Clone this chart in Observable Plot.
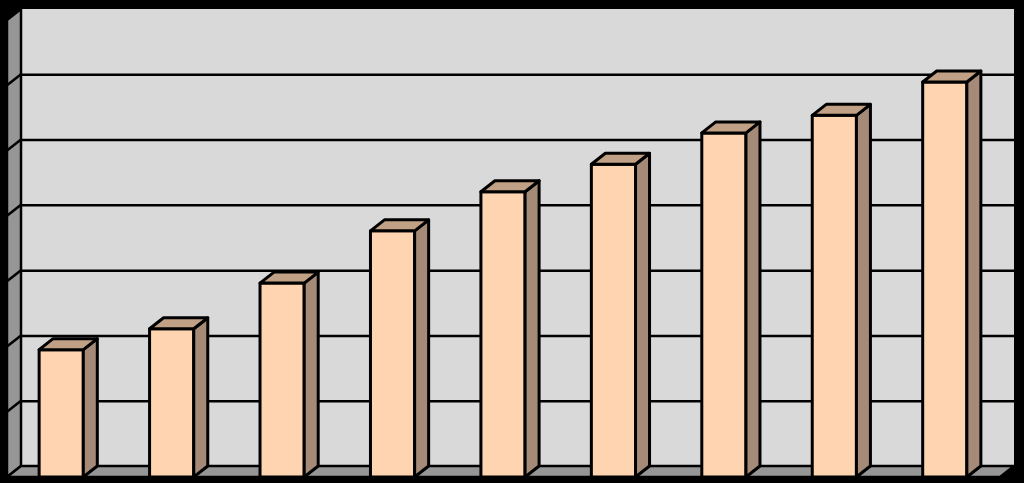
<!DOCTYPE html>
<html>
<head>
<meta charset="utf-8">
<script src="https://cdn.jsdelivr.net/npm/d3@7"></script>
<script src="https://cdn.jsdelivr.net/npm/@observablehq/plot@0.6"></script>
<style>
  html, body { margin: 0; padding: 0; background: #000; }
  #chart svg { display: block; }
</style>
</head>
<body>
<div id="chart"></div>
<script>
// ---- data ----
const categories = ["1", "2", "3", "4", "5", "6", "7", "8", "9"];
const values = [1.95, 2.27, 2.97, 3.77, 4.37, 4.79, 5.27, 5.54, 6.05];
const gridTicks = [1, 2, 3, 4, 5, 6];
const yMax = 7;

const data = categories.map((c, i) => ({cat: c, value: values[i]}));

// ---- style ----
const DX = 14, DY = -11;           // 3D depth offset (px)
const wallBack = "#d9d9d9";
const wallSide = "#969696";
const barFront = "#ffd5b1";
const barTop = "#c1a185";
const barSide = "#a58b77";
const SW = 2.5;   // wall / grid lines
const BW = 3;     // bar outlines

function poly(g, pts, fill, sw) {
  g.append("polygon")
    .attr("points", pts.map(p => p.join(",")).join(" "))
    .attr("fill", fill)
    .attr("stroke", "#000")
    .attr("stroke-width", sw)
    .attr("stroke-linejoin", "round");
}

// walls, positioned via the plot's own scales
function walls(index, scales, vals, dim) {
  const {width, marginLeft, marginRight} = dim;
  const x0 = marginLeft + 1, x1 = width - marginRight;
  const y = scales.y;
  const yb = y(0), yt = y(yMax);
  const g = d3.create("svg:g");
  g.append("rect")
    .attr("x", x0 + DX).attr("y", yt + DY)
    .attr("width", x1 - x0).attr("height", yb - yt)
    .attr("fill", wallBack);
  poly(g, [[x0, yb], [x0, yt], [x0 + DX, yt + DY], [x0 + DX, yb + DY]], wallSide, SW);
  for (const t of gridTicks) {
    g.append("line")
      .attr("x1", x0).attr("y1", y(t))
      .attr("x2", x0 + DX).attr("y2", y(t) + DY)
      .attr("stroke", "#000").attr("stroke-width", SW);
  }
  return g.node();
}

function floor(index, scales, vals, dim) {
  const {width, marginLeft, marginRight} = dim;
  const x0 = marginLeft + 1, x1 = width - marginRight;
  const yb = scales.y(0);
  const g = d3.create("svg:g");
  poly(g, [[x0, yb], [x1, yb], [x1 + DX, yb + DY], [x0 + DX, yb + DY]], wallSide, SW);
  return g.node();
}

// top and side faces of each bar
function barFaces(index, scales) {
  const x = scales.x, y = scales.y;
  const bw = typeof x.bandwidth === "function" ? x.bandwidth() : 44;
  const yb = y(0);
  const g = d3.create("svg:g");
  for (const d of data) {
    const bx = x(d.cat), yv = y(d.value);
    poly(g, [[bx + bw, yv], [bx + bw + DX, yv + DY], [bx + bw + DX, yb + DY], [bx + bw, yb]], barSide, BW);
    poly(g, [[bx, yv], [bx + bw, yv], [bx + bw + DX, yv + DY], [bx + DX, yv + DY]], barTop, BW);
  }
  return g.node();
}

const chart = Plot.plot({
  width: 1024,
  height: 483,
  marginLeft: 6,
  marginRight: 24,
  marginTop: 20,
  marginBottom: 6,
  style: {background: "#000"},
  x: {domain: categories, paddingInner: 0.6, paddingOuter: 0.3, round: false, axis: null},
  y: {domain: [0, yMax], axis: null},
  marks: [
    walls,
    Plot.ruleY(gridTicks, {dx: DX, dy: DY, stroke: "#000", strokeWidth: SW}),
    floor,
    Plot.barY(data, {x: "cat", y: "value", fill: barFront, stroke: "#000", strokeWidth: BW, strokeLinejoin: "round", inset: 0}),
    barFaces
  ]
});

document.getElementById("chart").appendChild(chart);
</script>
</body>
</html>
